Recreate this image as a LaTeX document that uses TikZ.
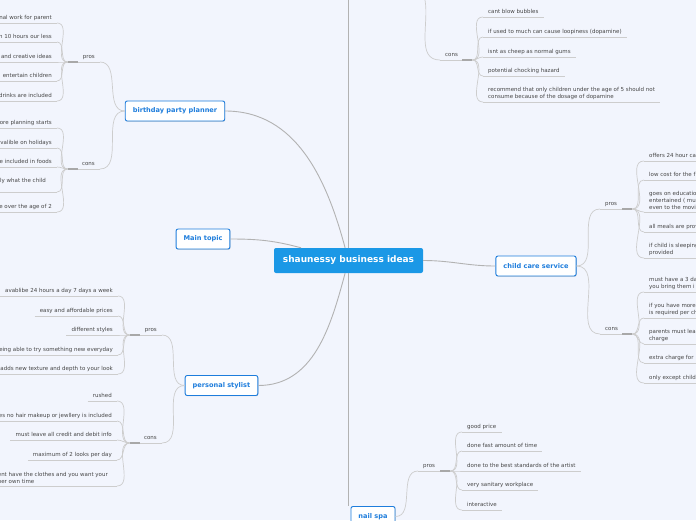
\documentclass[tikz,border=0pt]{standalone}
\usepackage{fontspec}
\setmainfont{DejaVu Sans}
\usetikzlibrary{positioning,shadows}
\definecolor{paper}{RGB}{242,245,253}
\definecolor{rootblue}{RGB}{27,152,230}
\definecolor{ideablue}{RGB}{30,125,220}
\definecolor{inkgray}{RGB}{70,70,70}
\definecolor{stemgray}{RGB}{178,178,178}
\definecolor{twiggray}{RGB}{205,205,205}
\definecolor{hubgray}{RGB}{168,168,168}

\begin{document}
\begin{tikzpicture}[
    x=1pt, y=-1pt,
    root/.style={fill=rootblue, rounded corners=2pt, text=white, font=\fontsize{9}{10}\selectfont\bfseries, minimum width=149pt, minimum height=25pt},
    idea/.style={draw=ideablue, line width=0.9pt, fill=white, rounded corners=2pt, text=ideablue, font=\fontsize{6.6}{7}\selectfont\bfseries, inner xsep=7.5pt, minimum height=20pt, drop shadow={shadow xshift=0.5pt, shadow yshift=-0.7pt, fill=black, opacity=0.2}},
    leafbase/.style={text=inkgray, font=\fontsize{5.5}{7}\selectfont, inner xsep=5pt, inner ysep=2.3pt, text height=4.1pt, text depth=1.2pt},
    sidel/.style={leafbase, anchor=south east, align=right, text width=22pt},
    sider/.style={leafbase, anchor=south west, align=left, text width=22pt},
    leafl/.style={leafbase, anchor=south east, align=left},
    leafr/.style={leafbase, anchor=south west, align=left},
    stack/.style={text height={}, text depth={}},
    stem/.style={draw=stemgray, line width=1.8pt},
    branch/.style={draw=stemgray, line width=0.9pt},
    twig/.style={draw=twiggray, line width=0.7pt},
    hub/.style={draw=hubgray, line width=1.1pt}
]
\useasboundingbox (0,0) rectangle (696,520);
\fill[paper] (0,0) rectangle (696,520);

\node[root] (root) at (348.5,260.5) {shaunessy business ideas};
\node[idea] (party) at (175,111) {birthday party planner};
\node[idea] (maintopic) at (203,239) {Main topic};
\node[idea] (stylist) at (221.5,385.5) {personal stylist};
\node[idea] (childcare) at (536,266) {child care service};
\node[idea] (nailspa) at (373,516.5) {nail spa};
\coordinate (upper) at (348.5,0);
\coordinate (gum) at (425,0);

\node[sidel] (partypros) at (100,62) {pros};
\node[sidel] (partycons) at (100,169) {cons};
\node[sidel] (stylistpros) at (162,335) {pros};
\node[sidel] (stylistcons) at (162,443) {cons};
\node[sider] (carepros) at (600,209) {pros};
\node[sider] (carecons) at (600,334) {cons};
\node[sider] (nailpros) at (418,471) {pros};
\node[sider] (gumcons) at (440,60) {cons};

\node[leafl] (pp1) at (57,23) {nal work for parent};
\node[leafl] (pp2) at (57,42) {n 10 hours our less};
\node[leafl] (pp3) at (57,62) {and creative ideas};
\node[leafl] (pp4) at (57,81) {entertain children};
\node[leafl] (pp5) at (57,101) {drinks are included};

\node[leafl] (pc1) at (57,128) {ore planning starts};
\node[leafl] (pc2) at (57,148) {valible on holidays};
\node[leafl] (pc3) at (57,167) {e included in foods};
\node[leafl, inner xsep=11pt, text depth=7.4pt] (pc4) at (57,192) {ly what the child};
\node[leafl] (pc5) at (57,212) {e over the age of 2};

\node[leafl] (sp1) at (118,296) {avablibe 24 hours a day 7 days a week};
\node[leafl] (sp2) at (118,316) {easy and affordable prices};
\node[leafl] (sp3) at (118,335) {different styles};
\node[leafl] (sp4) at (118,355) {eing able to try something new everyday};
\node[leafl] (sp5) at (118,374) {adds new texture and depth to your look};

\node[leafl] (sc1) at (117,401) {rushed};
\node[leafl] (sc2) at (117,421) {es no hair makeup or jewllery is included};
\node[leafl] (sc3) at (117,440) {must leave all credit and debit info};
\node[leafl] (sc4) at (117,460) {maximum of 2 looks per day};
\node[leafl, stack, inner xsep=9pt] (sc5) at (117,486) {ent have the clothes and you want your\\her own time};

\node[leafr] (cp1) at (644,161) {offers 24 hour ca};
\node[leafr] (cp2) at (644,180) {low cost for the f};
\node[leafr, stack] (cp3) at (644,212) {goes on educatio\\entertained ( mu\\even to the movi};
\node[leafr] (cp4) at (644,232) {all meals are prov};
\node[leafr, stack] (cp5) at (644,258) {if child is sleeping\\provided};

\node[leafr, stack] (cc1) at (644,292) {must have a 3 da\\you bring them i};
\node[leafr, stack] (cc2) at (644,318) {if you have more\\is required per ch};
\node[leafr, stack] (cc3) at (644,344) {parents must lea\\charge};
\node[leafr] (cc4) at (644,363) {extra charge for};
\node[leafr] (cc5) at (644,383) {only except child};

\node[leafr] (np1) at (462,432) {good price};
\node[leafr] (np2) at (462,451) {done fast amount of time};
\node[leafr] (np3) at (462,471) {done to the best standards of the artist};
\node[leafr] (np4) at (462,490) {very sanitary workplace};
\node[leafr] (np5) at (462,510) {interactive};

\node[leafr] (gc1) at (483,17) {cant blow bubbles};
\node[leafr] (gc2) at (483,37) {if used to much can cause loopiness (dopamine)};
\node[leafr] (gc3) at (483,57) {isnt as cheep as normal gums};
\node[leafr] (gc4) at (483,76) {potential chocking hazard};
\node[leafr, stack] (gc5) at (483,102) {recommend that only children under the age of 5 should not\\consume because of the dosage of dopamine};

\draw[stem] (root.north) -- (upper);
\draw[stem] (root.south) -- (root.south |- nailspa.north);
\draw[branch] (party.east) to[out=0,in=105] (root);
\draw[branch] (maintopic.east) to[out=0,in=165] (root);
\draw[branch] (stylist.east) to[out=0,in=-105] (root);
\draw[branch] (root.east) to[out=0,in=180] (childcare.west);

\draw[twig] (party.west) to[out=180,in=0] (partypros.south east);
\draw[twig] (party.west) to[out=180,in=0] (partycons.south east);
\draw[twig] (stylist.west) to[out=180,in=0] (stylistpros.south east);
\draw[twig] (stylist.west) to[out=180,in=0] (stylistcons.south east);
\draw[twig] (childcare.east) to[out=0,in=180] (carepros.south west);
\draw[twig] (childcare.east) to[out=0,in=180] (carecons.south west);
\draw[twig] (nailspa.east) to[out=0,in=180] (nailpros.south west);
\draw[twig] (gum) to[out=-80,in=180] (gumcons.south west);

\foreach \n in {partypros,partycons,stylistpros,stylistcons,carepros,carecons,nailpros,gumcons,
  pp1,pp2,pp3,pp4,pp5,pc1,pc2,pc3,pc4,pc5,sp1,sp2,sp3,sp4,sp5,sc1,sc2,sc3,sc4,sc5,
  cp1,cp2,cp3,cp4,cp5,cc1,cc2,cc3,cc4,cc5,np1,np2,np3,np4,np5,gc1,gc2,gc3,gc4,gc5}
  \draw[twig] (\n.south west) -- (\n.south east);

\foreach \i in {1,...,5} {
  \draw[twig] (partypros.south west) to[out=180,in=0] (pp\i.south east);
  \draw[twig] (partycons.south west) to[out=180,in=0] (pc\i.south east);
  \draw[twig] (stylistpros.south west) to[out=180,in=0] (sp\i.south east);
  \draw[twig] (stylistcons.south west) to[out=180,in=0] (sc\i.south east);
  \draw[twig] (carepros.south east) to[out=0,in=180] (cp\i.south west);
  \draw[twig] (carecons.south east) to[out=0,in=180] (cc\i.south west);
  \draw[twig] (nailpros.south east) to[out=0,in=180] (np\i.south west);
  \draw[twig] (gumcons.south east) to[out=0,in=180] (gc\i.south west);
}

\foreach \n in {partypros,partycons,stylistpros,stylistcons}
  \draw[hub] (\n.south west) -- ++(10,0);
\foreach \n in {carepros,carecons,nailpros,gumcons}
  \draw[hub] (\n.south east) -- ++(-10,0);
\end{tikzpicture}
\end{document}
